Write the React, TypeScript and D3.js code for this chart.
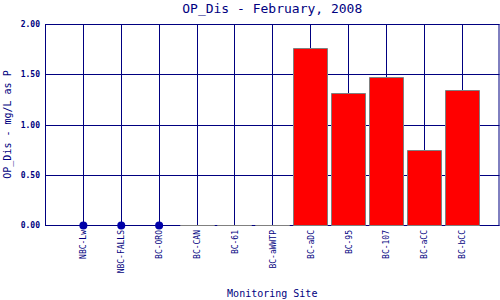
import React from "react";
import * as d3 from "d3";

const categories = ["NBC-Lw", "NBC-FALLS", "BC-ORO", "BC-CAN", "BC-61", "BC-aWWTP", "BC-aDC", "BC-95", "BC-107", "BC-aCC", "BC-bCC"];
const values: (number | null)[] = [null, null, null, 0, 0, 0, 1.76, 1.31, 1.47, 0.75, 1.34];
const yTicks = [0, 0.5, 1.0, 1.5, 2.0];
const title = "OP_Dis - February, 2008";
const xTitle = "Monitoring Site";
const yTitle = "OP_Dis - mg/L as P";

const W = 500, H = 300;
const left = 45, right = 499.5, top = 24, bottom = 225;
const NAVY = "#000080";
const FONT = "DejaVu Sans Mono, monospace";

export default function App() {
  const x = d3.scalePoint<string>().domain(categories).range([left, right]).padding(1);
  const y = d3.scaleLinear().domain([0, 2]).range([bottom, top]);
  const bw = 34;
  return (
    <svg width={W} height={H} style={{ position: "absolute", left: 0, top: 0, background: "#fff" }}>
      <text x={(left + right) / 2} y={13} textAnchor="middle" fontFamily={FONT} fontSize={13} fill={NAVY}>{title}</text>
      {categories.map((c) => (
        <line key={"vg" + c} x1={Math.round(x(c)!) + 0.5} x2={Math.round(x(c)!) + 0.5} y1={top} y2={bottom} stroke={NAVY} strokeWidth={1} />
      ))}
      {yTicks.map((t) => (
        <line key={"hg" + t} x1={left} x2={right} y1={Math.round(y(t)) + 0.5} y2={Math.round(y(t)) + 0.5} stroke={NAVY} strokeWidth={1} />
      ))}
      <rect x={left + 0.5} y={top + 0.5} width={right - left - 1} height={bottom - top} fill="none" stroke={NAVY} strokeWidth={1} />
      {categories.map((c, i) => {
        const v = values[i];
        if (v === null) return null;
        const cx = x(c)!;
        const x0 = Math.round(cx - bw / 2) + 0.5;
        const y0 = Math.round(y(0)) + 0.5;
        const y1 = Math.round(y(v)) + 0.5;
        const d = `M${x0},${y0}V${y1}H${x0 + bw}V${y0}Z`;
        return <path key={"b" + c} d={d} fill="#ff0000" stroke="#808080" strokeWidth={1} />;
      })}
      {categories.map((c, i) =>
        values[i] === null ? <circle key={"d" + c} cx={x(c)! + 0.5} cy={y(0) + 0.5} r={4} fill="#0000a8" /> : null
      )}
      {yTicks.map((t) => (
        <text key={"yt" + t} x={40} y={y(t) + 3} textAnchor="end" fontFamily={FONT} fontSize={8} fontWeight="bold" fill={NAVY}>{t.toFixed(2)}</text>
      ))}
      {categories.map((c) => (
        <text key={"xt" + c} transform={`translate(${x(c)! + 3.5},${bottom + 5}) rotate(-90)`} textAnchor="end" fontFamily={FONT} fontSize={8} fill={NAVY}>{c}</text>
      ))}
      <text x={(left + right) / 2} y={297} textAnchor="middle" fontFamily={FONT} fontSize={10} fill={NAVY}>{xTitle}</text>
      <text transform={`translate(11,${(top + bottom) / 2}) rotate(-90)`} textAnchor="middle" fontFamily={FONT} fontSize={10} fill={NAVY}>{yTitle}</text>
    </svg>
  );
}
